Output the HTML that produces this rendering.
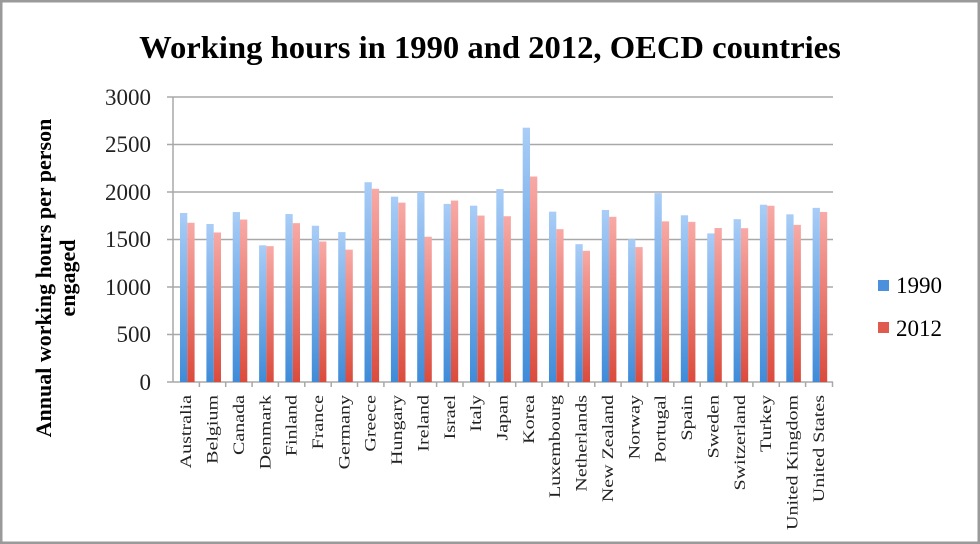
<!DOCTYPE html>
<html><head><meta charset="utf-8"><style>
html,body{margin:0;padding:0;background:#fff;}
svg{display:block;}
</style></head><body>
<svg width="980" height="544" xmlns="http://www.w3.org/2000/svg" font-family="Liberation Serif, serif">
<defs>
<linearGradient id="b" x1="0" y1="0" x2="0" y2="1"><stop offset="0" stop-color="#a9cdf7"/><stop offset="1" stop-color="#3f8bd8"/></linearGradient>
<linearGradient id="r" x1="0" y1="0" x2="0" y2="1"><stop offset="0" stop-color="#f8aaa6"/><stop offset="1" stop-color="#db4b3c"/></linearGradient>
<g id="tk"><line x1="0" y1="382" x2="0" y2="387" stroke="#a8a8a8" stroke-width="1.5"/></g>
</defs>
<rect x="1" y="1" width="978" height="542" fill="#fff" stroke="#9a9a9a" stroke-width="3"/>
<text x="490" y="58" font-size="32" font-weight="bold" text-anchor="middle" transform="translate(490,0) scale(1.02,1) translate(-490,0)">Working hours in 1990 and 2012, OECD countries</text>
<g stroke="#a8a8a8" stroke-width="1.5">
<line x1="167" y1="97" x2="833" y2="97"/><line x1="167" y1="144.5" x2="833" y2="144.5"/>
<line x1="167" y1="192" x2="833" y2="192"/><line x1="167" y1="239.5" x2="833" y2="239.5"/>
<line x1="167" y1="287" x2="833" y2="287"/><line x1="167" y1="334.5" x2="833" y2="334.5"/>
<line x1="167" y1="382" x2="833" y2="382"/><line x1="173" y1="97" x2="173" y2="382"/>
</g>
<g font-size="23" text-anchor="end" fill="#222">
<text x="151" y="105">3000</text><text x="151" y="152">2500</text><text x="151" y="200">2000</text>
<text x="151" y="247">1500</text><text x="151" y="295">1000</text><text x="151" y="342">500</text><text x="151" y="390">0</text>
</g>
<g font-size="22" font-weight="bold" text-anchor="middle">
<text transform="translate(51,278) rotate(-90)">Annual working hours per person</text>
<text transform="translate(75,278) rotate(-90)">engaged</text>
</g>
<g>
<rect x="180.0" y="212.99" width="7.3" height="169.01" fill="url(#b)"/><rect x="187.3" y="222.78" width="7.3" height="159.22" fill="url(#r)"/>
<rect x="206.4" y="224.01" width="7.3" height="157.99" fill="url(#b)"/><rect x="213.7" y="232.47" width="7.3" height="149.53" fill="url(#r)"/>
<rect x="232.7" y="212.05" width="7.3" height="169.95" fill="url(#b)"/><rect x="240.0" y="219.55" width="7.3" height="162.45" fill="url(#r)"/>
<rect x="259.1" y="245.30" width="7.3" height="136.70" fill="url(#b)"/><rect x="266.4" y="246.15" width="7.3" height="135.85" fill="url(#r)"/>
<rect x="285.4" y="214.04" width="7.3" height="167.96" fill="url(#b)"/><rect x="292.7" y="223.16" width="7.3" height="158.84" fill="url(#r)"/>
<rect x="311.8" y="225.73" width="7.3" height="156.27" fill="url(#b)"/><rect x="319.1" y="241.50" width="7.3" height="140.50" fill="url(#r)"/>
<rect x="338.2" y="232.09" width="7.3" height="149.91" fill="url(#b)"/><rect x="345.5" y="249.67" width="7.3" height="132.33" fill="url(#r)"/>
<rect x="364.5" y="182.22" width="7.3" height="199.78" fill="url(#b)"/><rect x="371.8" y="188.77" width="7.3" height="193.23" fill="url(#r)"/>
<rect x="390.9" y="196.66" width="7.3" height="185.34" fill="url(#b)"/><rect x="398.2" y="202.64" width="7.3" height="179.36" fill="url(#r)"/>
<rect x="417.2" y="192.10" width="7.3" height="189.90" fill="url(#b)"/><rect x="424.5" y="236.75" width="7.3" height="145.25" fill="url(#r)"/>
<rect x="443.6" y="203.88" width="7.3" height="178.12" fill="url(#b)"/><rect x="450.9" y="200.55" width="7.3" height="181.45" fill="url(#r)"/>
<rect x="470.0" y="205.68" width="7.3" height="176.32" fill="url(#b)"/><rect x="477.3" y="215.56" width="7.3" height="166.44" fill="url(#r)"/>
<rect x="496.3" y="189.06" width="7.3" height="192.94" fill="url(#b)"/><rect x="503.6" y="216.23" width="7.3" height="165.77" fill="url(#r)"/>
<rect x="522.7" y="127.69" width="7.3" height="254.31" fill="url(#b)"/><rect x="530.0" y="176.52" width="7.3" height="205.48" fill="url(#r)"/>
<rect x="549.0" y="211.67" width="7.3" height="170.33" fill="url(#b)"/><rect x="556.3" y="229.15" width="7.3" height="152.85" fill="url(#r)"/>
<rect x="575.4" y="244.16" width="7.3" height="137.84" fill="url(#b)"/><rect x="582.7" y="250.81" width="7.3" height="131.19" fill="url(#r)"/>
<rect x="601.8" y="209.96" width="7.3" height="172.04" fill="url(#b)"/><rect x="609.1" y="216.80" width="7.3" height="165.20" fill="url(#r)"/>
<rect x="628.1" y="239.21" width="7.3" height="142.79" fill="url(#b)"/><rect x="635.4" y="247.10" width="7.3" height="134.90" fill="url(#r)"/>
<rect x="654.5" y="193.14" width="7.3" height="188.86" fill="url(#b)"/><rect x="661.8" y="221.36" width="7.3" height="160.64" fill="url(#r)"/>
<rect x="680.8" y="215.27" width="7.3" height="166.73" fill="url(#b)"/><rect x="688.1" y="221.83" width="7.3" height="160.17" fill="url(#r)"/>
<rect x="707.2" y="233.42" width="7.3" height="148.58" fill="url(#b)"/><rect x="714.5" y="228.01" width="7.3" height="153.99" fill="url(#r)"/>
<rect x="733.6" y="219.17" width="7.3" height="162.83" fill="url(#b)"/><rect x="740.9" y="228.20" width="7.3" height="153.80" fill="url(#r)"/>
<rect x="759.9" y="204.73" width="7.3" height="177.27" fill="url(#b)"/><rect x="767.2" y="205.78" width="7.3" height="176.22" fill="url(#r)"/>
<rect x="786.3" y="214.33" width="7.3" height="167.67" fill="url(#b)"/><rect x="793.6" y="224.87" width="7.3" height="157.13" fill="url(#r)"/>
<rect x="812.6" y="207.87" width="7.3" height="174.13" fill="url(#b)"/><rect x="819.9" y="211.95" width="7.3" height="170.05" fill="url(#r)"/>
</g>
<g stroke="#a8a8a8" stroke-width="1.5">
<line x1="199.4" y1="382" x2="199.4" y2="387"/><line x1="225.7" y1="382" x2="225.7" y2="387"/><line x1="252.1" y1="382" x2="252.1" y2="387"/><line x1="278.4" y1="382" x2="278.4" y2="387"/><line x1="304.8" y1="382" x2="304.8" y2="387"/><line x1="331.2" y1="382" x2="331.2" y2="387"/><line x1="357.5" y1="382" x2="357.5" y2="387"/><line x1="383.9" y1="382" x2="383.9" y2="387"/><line x1="410.2" y1="382" x2="410.2" y2="387"/><line x1="436.6" y1="382" x2="436.6" y2="387"/><line x1="463.0" y1="382" x2="463.0" y2="387"/><line x1="489.3" y1="382" x2="489.3" y2="387"/><line x1="515.7" y1="382" x2="515.7" y2="387"/><line x1="542.0" y1="382" x2="542.0" y2="387"/><line x1="568.4" y1="382" x2="568.4" y2="387"/><line x1="594.8" y1="382" x2="594.8" y2="387"/><line x1="621.1" y1="382" x2="621.1" y2="387"/><line x1="647.5" y1="382" x2="647.5" y2="387"/><line x1="673.8" y1="382" x2="673.8" y2="387"/><line x1="700.2" y1="382" x2="700.2" y2="387"/><line x1="726.6" y1="382" x2="726.6" y2="387"/><line x1="752.9" y1="382" x2="752.9" y2="387"/><line x1="779.3" y1="382" x2="779.3" y2="387"/><line x1="805.6" y1="382" x2="805.6" y2="387"/><line x1="832.5" y1="382" x2="832.5" y2="387"/>
</g>
<g font-size="16" text-anchor="end" fill="#222">
<text transform="translate(191.2,395) rotate(-90) scale(1.25,1)">Australia</text>
<text transform="translate(217.6,395) rotate(-90) scale(1.25,1)">Belgium</text>
<text transform="translate(243.9,395) rotate(-90) scale(1.25,1)">Canada</text>
<text transform="translate(270.3,395) rotate(-90) scale(1.25,1)">Denmark</text>
<text transform="translate(296.6,395) rotate(-90) scale(1.25,1)">Finland</text>
<text transform="translate(323.0,395) rotate(-90) scale(1.25,1)">France</text>
<text transform="translate(349.4,395) rotate(-90) scale(1.25,1)">Germany</text>
<text transform="translate(375.7,395) rotate(-90) scale(1.25,1)">Greece</text>
<text transform="translate(402.1,395) rotate(-90) scale(1.25,1)">Hungary</text>
<text transform="translate(428.4,395) rotate(-90) scale(1.25,1)">Ireland</text>
<text transform="translate(454.8,395) rotate(-90) scale(1.25,1)">Israel</text>
<text transform="translate(481.2,395) rotate(-90) scale(1.25,1)">Italy</text>
<text transform="translate(507.5,395) rotate(-90) scale(1.25,1)">Japan</text>
<text transform="translate(533.9,395) rotate(-90) scale(1.25,1)">Korea</text>
<text transform="translate(560.2,395) rotate(-90) scale(1.25,1)">Luxembourg</text>
<text transform="translate(586.6,395) rotate(-90) scale(1.25,1)">Netherlands</text>
<text transform="translate(613.0,395) rotate(-90) scale(1.25,1)">New Zealand</text>
<text transform="translate(639.3,395) rotate(-90) scale(1.25,1)">Norway</text>
<text transform="translate(665.7,395) rotate(-90) scale(1.25,1)">Portugal</text>
<text transform="translate(692.0,395) rotate(-90) scale(1.25,1)">Spain</text>
<text transform="translate(718.4,395) rotate(-90) scale(1.25,1)">Sweden</text>
<text transform="translate(744.8,395) rotate(-90) scale(1.25,1)">Switzerland</text>
<text transform="translate(771.1,395) rotate(-90) scale(1.25,1)">Turkey</text>
<text transform="translate(797.5,395) rotate(-90) scale(1.25,1)">United Kingdom</text>
<text transform="translate(823.8,395) rotate(-90) scale(1.25,1)">United States</text>
</g>
<rect x="878" y="280" width="11" height="11" fill="#4a90dc"/>
<rect x="878" y="322" width="11" height="11" fill="#e05a4e"/>
<text x="896" y="293" font-size="23">1990</text>
<text x="896" y="336" font-size="23">2012</text>
</svg>
</body></html>
